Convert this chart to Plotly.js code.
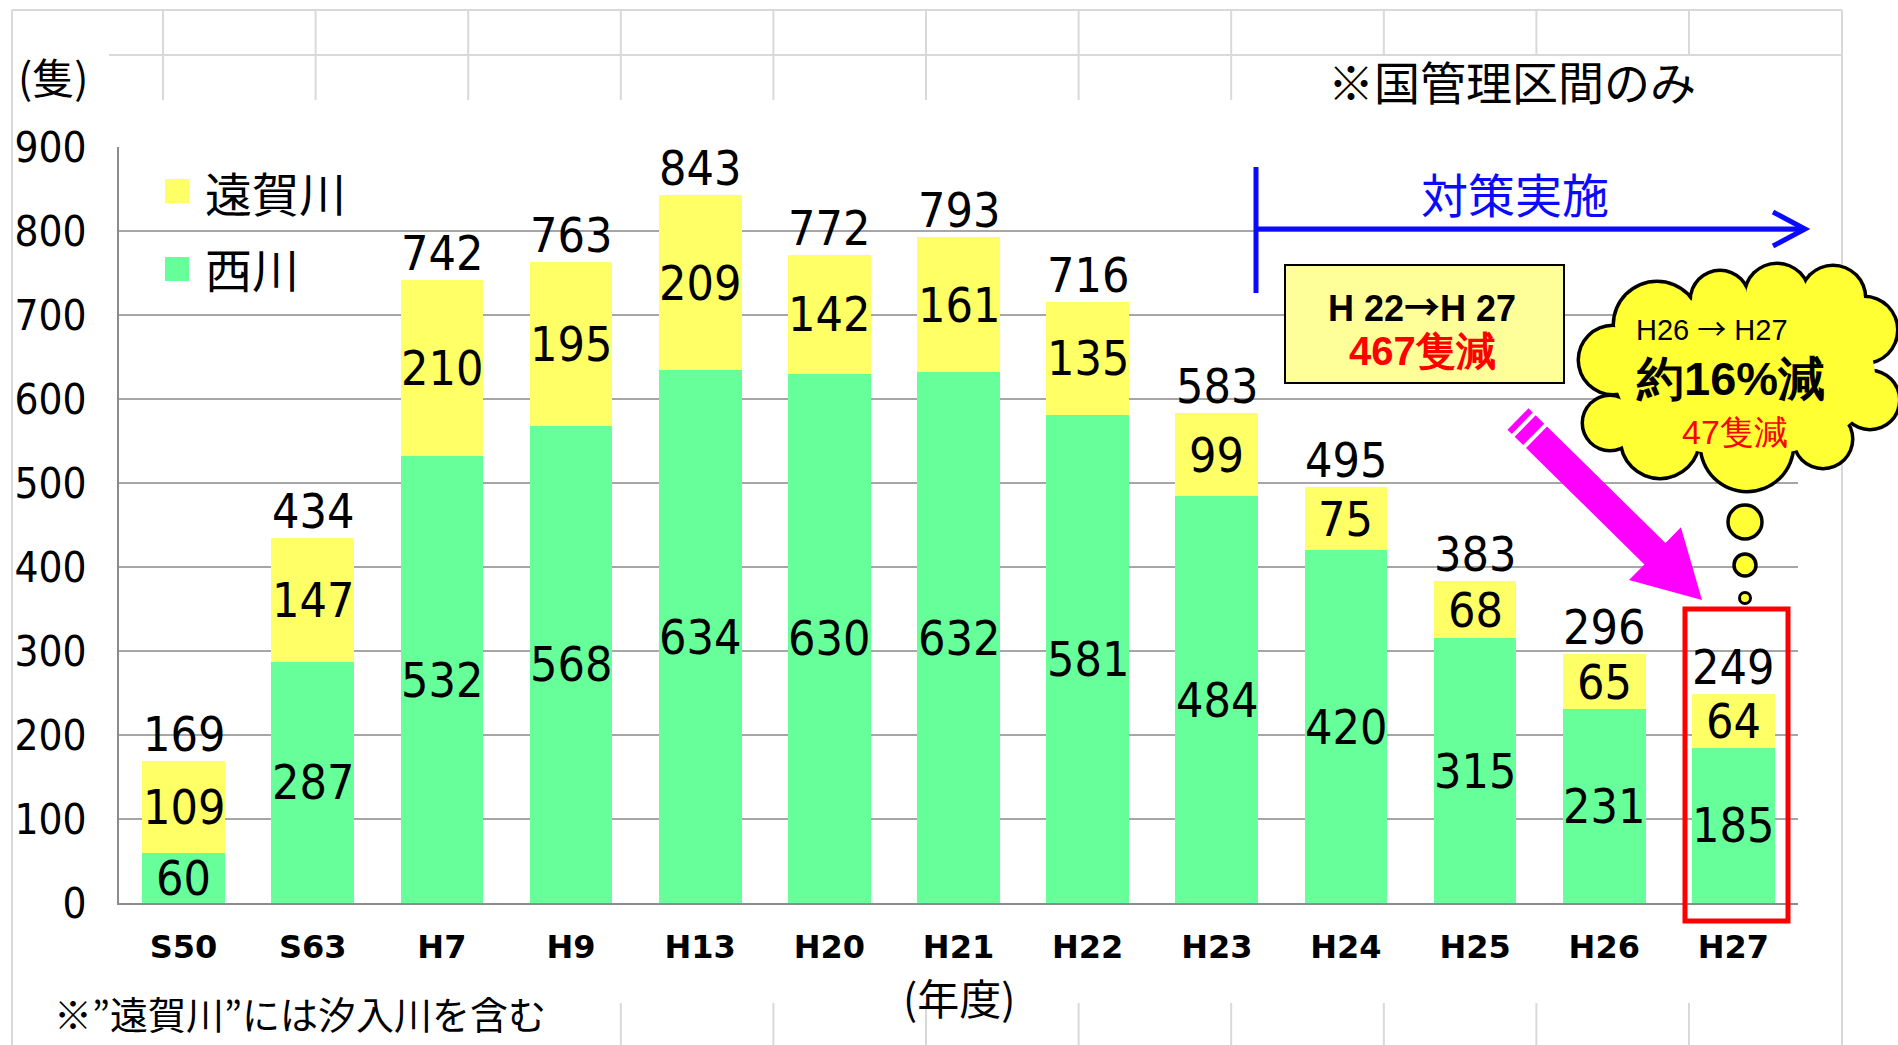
<!DOCTYPE html>
<html>
<head>
<meta charset="utf-8">
<script src="https://cdn.plot.ly/plotly-3.0.1.min.js"></script>
<style>html,body{margin:0;padding:0;background:#fff;}#chart{width:1898px;height:1045px;}</style>
</head>
<body>
<div id="chart"></div>
<script>
// ---- data ----
const categories = ['S50','S63','H7','H9','H13','H20','H21','H22','H23','H24','H25','H26','H27'];
const nishikawa  = [60, 287, 532, 568, 634, 630, 632, 581, 484, 420, 315, 231, 185];   // 西川
const ongagawa   = [109, 147, 210, 195, 209, 142, 161, 135, 99, 75, 68, 65, 64];       // 遠賀川
const totals     = [169, 434, 742, 763, 843, 772, 793, 716, 583, 495, 383, 296, 249];
const yTicks     = [0, 100, 200, 300, 400, 500, 600, 700, 800, 900];
const seriesNames = ['西川', '遠賀川'];

// ---- geometry helpers (pixel -> paper) ----
const L = 119, T = 147, W = 1679, H = 756;
const px = x => (x - L) / W;
const py = y => (T + H - y) / H;

const NARROW = '"Liberation Sans Narrow", "Arial Narrow", "DejaVu Sans Condensed", sans-serif';
const CJK = '"Noto Sans CJK JP", "Noto Sans", sans-serif';
const ARIAL = '"Liberation Sans", Arial, sans-serif';
const ARROW = '<span style="font-family:Noto Sans CJK JP">→</span>';

const YELLOW = '#FFFF66', GREEN = '#66FF99';

const traces = [
  {type: 'bar', name: seriesNames[0], x: categories, y: nishikawa,
   marker: {color: GREEN}, hoverinfo: 'x+y+name'},
  {type: 'bar', name: seriesNames[1], x: categories, y: ongagawa,
   marker: {color: YELLOW}, hoverinfo: 'x+y+name'}
];

const shapes = [];
const annotations = [];
function pline(x0, y0, x1, y1, color, width) {
  shapes.push({type: 'line', xref: 'paper', yref: 'paper',
    x0: px(x0), y0: py(y0), x1: px(x1), y1: py(y1),
    line: {color: color, width: width}});
}
function prect(x0, y0, x1, y1, fill, lineColor, lineWidth) {
  shapes.push({type: 'rect', xref: 'paper', yref: 'paper',
    x0: px(x0), y0: py(y1), x1: px(x1), y1: py(y0),
    fillcolor: fill, line: {color: lineColor, width: lineWidth}});
}
function pcircle(cx, cy, rx, ry, fill, lineColor, lineWidth) {
  shapes.push({type: 'circle', xref: 'paper', yref: 'paper',
    x0: px(cx - rx), x1: px(cx + rx), y0: py(cy + ry), y1: py(cy - ry),
    fillcolor: fill, line: {color: lineColor, width: lineWidth}});
}
function ptext(text, x, y, size, color, family, opts) {
  annotations.push(Object.assign({xref: 'paper', yref: 'paper', x: px(x), y: py(y),
    text: text, showarrow: false, xanchor: 'center', yanchor: 'middle',
    font: {size: size, color: color, family: family}}, opts || {}));
}

// ---- spreadsheet background grid ----
const SHEET = '#d9d9d9';
pline(12, 10, 1842, 10, SHEET, 2);
pline(109, 55, 1842, 55, SHEET, 2);
pline(12, 10, 12, 1045, SHEET, 2);
pline(1842, 10, 1842, 1045, SHEET, 2);
for (let k = 0; k <= 10; k++) {
  const x = 163 + 152.6 * k;
  const bottomTop = (x > 1310 && x < 1710) ? 55 : 100;
  pline(x, 10, x, bottomTop, SHEET, 2);
  if (x > 600) pline(x, 1003, x, 1045, SHEET, 2);
}

// ---- blue "対策実施" arrow ----
const BLUE = '#0a0aff';
pline(1256, 167, 1256, 293, BLUE, 5);
pline(1256, 229, 1802, 229, BLUE, 5);
shapes.push({type: 'path', xref: 'paper', yref: 'paper',
  path: `M${px(1773)},${py(212)} L${px(1805)},${py(229)} L${px(1773)},${py(246)}`,
  line: {color: BLUE, width: 5}});
ptext('対策実施', 1515, 192, 47, BLUE, CJK);

// ---- yellow box ----
prect(1285, 265, 1564, 383, '#FFFF99', '#000000', 2);
ptext('<b>H 22' + ARROW + 'H 27</b>', 1422, 305, 36, '#000000', ARIAL);
ptext('<b>467隻減</b>', 1422, 351, 40, '#FF0000', ARIAL);

// ---- magenta arrow ----
(function () {
  const P0 = [1518, 419], P1 = [1702, 600];
  const dx = P1[0] - P0[0], dy = P1[1] - P0[1];
  const len = Math.hypot(dx, dy);
  const u = [dx / len, dy / len], n = [-u[1], u[0]];
  const pt = (s, w) => [P0[0] + u[0] * s + n[0] * w, P0[1] + u[1] * s + n[1] * w];
  const toPath = pts => 'M' + pts.map(p => `${px(p[0])},${py(p[1])}`).join(' L') + ' Z';
  const hw = 15, headW = 37, headStart = len - 66;
  const seg = (s0, s1) => toPath([pt(s0, -hw), pt(s1, -hw), pt(s1, hw), pt(s0, hw)]);
  const MAG = '#FF00FF';
  [seg(0, 6), seg(10, 22)].forEach(p => shapes.push({type: 'path', xref: 'paper', yref: 'paper',
    path: p, fillcolor: MAG, line: {width: 0}}));
  shapes.push({type: 'path', xref: 'paper', yref: 'paper',
    path: toPath([pt(26, -hw), pt(headStart, -hw), pt(headStart, -headW), pt(len, 0),
                  pt(headStart, headW), pt(headStart, hw), pt(26, hw)]),
    fillcolor: MAG, line: {width: 0}});
})();

// ---- red highlight box ----
prect(1685, 609, 1788, 921, 'rgba(0,0,0,0)', '#FF0000', 5);

// ---- cloud ----
const CLOUD = '#FFFF33';
const lobes = [
  [1657, 325, 42], [1720, 300, 28], [1777, 296, 31], [1833, 298, 31], [1864, 330, 32],
  [1870, 400, 28], [1823, 439, 28], [1747, 445, 45], [1660, 439, 38],
  [1610, 423, 26], [1613, 360, 33]
];
lobes.forEach(l => pcircle(l[0], l[1], l[2] + 3.5, l[2] + 3.5, '#000000', '#000000', 0));
lobes.forEach(l => pcircle(l[0], l[1], l[2], l[2], CLOUD, CLOUD, 0));
pcircle(1745, 375, 130, 82, CLOUD, CLOUD, 0);
ptext('H26 ' + ARROW + ' H27', 1712, 327, 29, '#000000', ARIAL);
ptext('<b>約16%減</b>', 1730, 378, 47, '#000000', ARIAL);
ptext('47隻減', 1735, 432, 34, '#FF0000', ARIAL);

// thought bubbles
pcircle(1745, 522, 17, 17, CLOUD, '#000000', 3.5);
pcircle(1745, 565, 11, 11, CLOUD, '#000000', 3.5);
pcircle(1745, 598, 5.5, 5.5, CLOUD, '#000000', 3);

// ---- manual legend ----
prect(165, 179, 189, 203, YELLOW, YELLOW, 0);
prect(165, 257, 189, 281, GREEN, GREEN, 0);
ptext(seriesNames[1], 203, 191, 47, '#000000', CJK, {xanchor: 'left'});
ptext(seriesNames[0], 203, 268, 47, '#000000', CJK, {xanchor: 'left'});

// ---- other texts ----
ptext('(隻)', 53, 76, 42, '#000000', CJK);
ptext('※国管理区間のみ', 1512, 80, 46, '#000000', CJK);
ptext('(年度)', 959, 996, 42, '#000000', CJK);
ptext('※”遠賀川”には汐入川を含む', 300, 1012, 38, '#000000', CJK);

// ---- bar value labels ----
const LABEL_FONT = {family: NARROW, size: 48, color: '#000000'};
categories.forEach((c, i) => {
  annotations.push({x: c, y: nishikawa[i] / 2, xref: 'x', yref: 'y', text: String(nishikawa[i]),
    showarrow: false, xanchor: 'center', yanchor: 'middle', height: 46, font: LABEL_FONT});
  annotations.push({x: c, y: nishikawa[i] + ongagawa[i] / 2, xref: 'x', yref: 'y', text: String(ongagawa[i]),
    showarrow: false, xanchor: 'center', yanchor: 'middle', height: 46, font: LABEL_FONT});
  annotations.push({x: c, y: totals[i], xref: 'x', yref: 'y', text: String(totals[i]),
    showarrow: false, xanchor: 'center', yanchor: 'middle', yshift: 27, height: 46, font: LABEL_FONT});
});

const layout = {
  width: 1898, height: 1045,
  margin: {l: L, r: 1898 - L - W, t: T, b: 1045 - T - H, pad: 0},
  paper_bgcolor: '#ffffff', plot_bgcolor: 'rgba(0,0,0,0)',
  barmode: 'stack', bargap: 0.36,
  showlegend: false,
  xaxis: {type: 'category', range: [-0.5, 12.5], showgrid: false, zeroline: false,
    showline: true, linecolor: '#8c8c8c', linewidth: 2, ticks: '',
    tickfont: {family: '"DejaVu Sans", sans-serif', size: 32, color: '#000000', weight: 'bold'},
    ticklabelstandoff: 15, fixedrange: true},
  yaxis: {range: [0, 900], tickvals: yTicks, ticktext: yTicks.map(String),
    showgrid: true, gridcolor: '#a6a6a6', gridwidth: 2, zeroline: false,
    showline: true, linecolor: '#8c8c8c', linewidth: 2, ticks: '',
    tickfont: {family: NARROW, size: 42, color: '#000000'},
    ticklabelstandoff: 22, fixedrange: true},
  shapes: shapes,
  annotations: annotations
};

Plotly.newPlot('chart', traces, layout, {displayModeBar: false, staticPlot: true});
</script>
</body>
</html>
